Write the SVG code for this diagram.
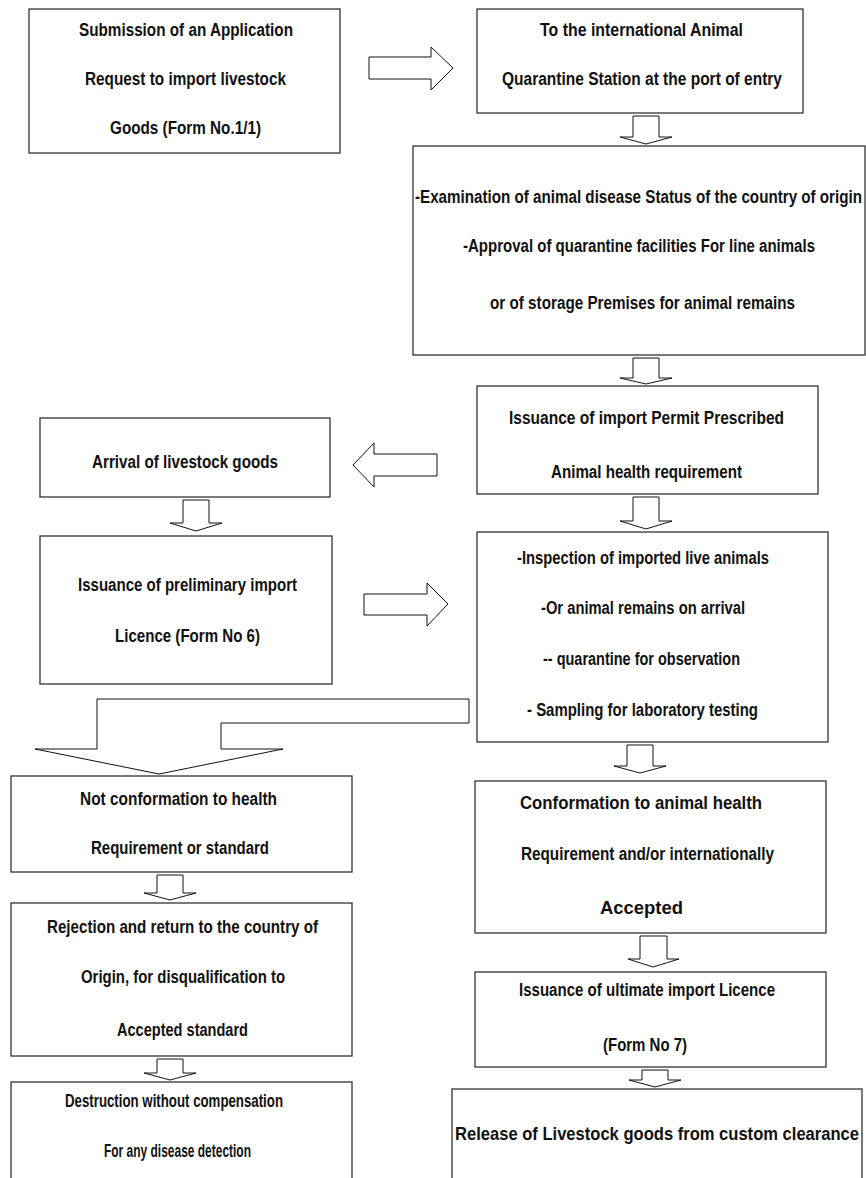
<svg xmlns="http://www.w3.org/2000/svg" width="866" height="1178" viewBox="0 0 866 1178">
<style>
.box{fill:#fff;stroke:#333;stroke-width:1.3}
.arr{fill:#fff;stroke:#111;stroke-width:1}
text{font-family:"Liberation Sans",Arial,sans-serif;font-weight:bold;font-size:17.5px;fill:#111}
</style>
<rect width="866" height="1178" fill="#fff"/>
<g id="connectors">
<path class="arr" d="M369,57 H431 V47 L453,68 L431,90 V79 H369 Z"/>
<path class="arr" d="M633,116 H659 V137 H672 L646,144 L620,137 H633 Z"/>
<path class="arr" d="M633,358 H659 V378 H672 L646,384 L620,378 H633 Z"/>
<path class="arr" d="M437,454 H374 V443 L353,465 L374,487 V476 H437 Z"/>
<path class="arr" d="M183,500 H209 V523 H222 L196,531 L170,523 H183 Z"/>
<path class="arr" d="M633,497 H659 V521 H672 L646,529 L620,521 H633 Z"/>
<path class="arr" d="M364,594 H427 V583 L448,604 L427,626 V615 H364 Z"/>
<path class="arr" d="M469,699 H97 V749 H35 L159,774 L283,749 H221 V723 H469 Z"/>
<path class="arr" d="M627,745 H653 V766 H666 L640,773 L614,766 H627 Z"/>
<path class="arr" d="M157,875 H183 V893 H196 L170,900 L144,893 H157 Z"/>
<path class="arr" d="M640,936 H667 V959 H679 L653,967 L628,959 H640 Z"/>
<path class="arr" d="M157,1059 H183 V1073 H196 L170,1080 L144,1073 H157 Z"/>
<path class="arr" d="M642,1070 H668 V1080 H681 L655,1087 L629,1080 H642 Z"/>
</g>
<g id="n1"><rect class="box" x="29" y="9" width="311" height="144"/>
<text x="79" y="36" textLength="214" lengthAdjust="spacingAndGlyphs">Submission of an Application</text>
<text x="85" y="85" textLength="201" lengthAdjust="spacingAndGlyphs">Request to import livestock</text>
<text x="110" y="134" textLength="151" lengthAdjust="spacingAndGlyphs">Goods (Form No.1/1)</text></g>
<g id="n2"><rect class="box" x="477" y="9" width="326" height="104"/>
<text x="540" y="36" textLength="203" lengthAdjust="spacingAndGlyphs">To the international Animal</text>
<text x="502" y="85" textLength="280" lengthAdjust="spacingAndGlyphs">Quarantine Station at the port of entry</text></g>
<g id="n3"><rect class="box" x="413" y="146" width="452" height="209"/>
<text x="415" y="203" textLength="447" lengthAdjust="spacingAndGlyphs">-Examination of animal disease Status of the country of origin</text>
<text x="463" y="252" textLength="352" lengthAdjust="spacingAndGlyphs">-Approval of quarantine facilities For line animals</text>
<text x="490" y="309" textLength="305" lengthAdjust="spacingAndGlyphs">or of storage Premises for animal remains</text></g>
<g id="n4"><rect class="box" x="477" y="386" width="341" height="108"/>
<text x="509" y="424" textLength="275" lengthAdjust="spacingAndGlyphs">Issuance of import Permit Prescribed</text>
<text x="551" y="478" textLength="191" lengthAdjust="spacingAndGlyphs">Animal health requirement</text></g>
<g id="n5"><rect class="box" x="40" y="418" width="290" height="79"/>
<text x="92" y="468" textLength="186" lengthAdjust="spacingAndGlyphs">Arrival of livestock goods</text></g>
<g id="n6"><rect class="box" x="40" y="536" width="292" height="148"/>
<text x="78" y="591" textLength="219" lengthAdjust="spacingAndGlyphs">Issuance of preliminary import</text>
<text x="115" y="642" textLength="145" lengthAdjust="spacingAndGlyphs">Licence (Form No 6)</text></g>
<g id="n7"><rect class="box" x="477" y="532" width="351" height="210"/>
<text x="517" y="564" textLength="252" lengthAdjust="spacingAndGlyphs">-Inspection of imported live animals</text>
<text x="541" y="614" textLength="204" lengthAdjust="spacingAndGlyphs">-Or animal remains on arrival</text>
<text x="543" y="665" textLength="197" lengthAdjust="spacingAndGlyphs">-- quarantine for observation</text>
<text x="527" y="716" textLength="231" lengthAdjust="spacingAndGlyphs">- Sampling for laboratory testing</text></g>
<g id="n8"><rect class="box" x="11" y="776" width="341" height="96"/>
<text x="80" y="805" textLength="197" lengthAdjust="spacingAndGlyphs">Not conformation to health</text>
<text x="91" y="854" textLength="178" lengthAdjust="spacingAndGlyphs">Requirement or standard</text></g>
<g id="n9"><rect class="box" x="475" y="781" width="351" height="152"/>
<text x="520" y="809" textLength="242" lengthAdjust="spacingAndGlyphs">Conformation to animal health</text>
<text x="521" y="860" textLength="253" lengthAdjust="spacingAndGlyphs">Requirement and/or internationally</text>
<text x="600" y="914" textLength="83" lengthAdjust="spacingAndGlyphs">Accepted</text></g>
<g id="n10"><rect class="box" x="11" y="903" width="341" height="153"/>
<text x="47" y="933" textLength="271" lengthAdjust="spacingAndGlyphs">Rejection and return to the country of</text>
<text x="81" y="983" textLength="204" lengthAdjust="spacingAndGlyphs">Origin, for disqualification to</text>
<text x="117" y="1036" textLength="131" lengthAdjust="spacingAndGlyphs">Accepted standard</text></g>
<g id="n11"><rect class="box" x="475" y="972" width="351" height="95"/>
<text x="519" y="996" textLength="256" lengthAdjust="spacingAndGlyphs">Issuance of ultimate import Licence</text>
<text x="603" y="1051" textLength="84" lengthAdjust="spacingAndGlyphs">(Form No 7)</text></g>
<g id="n12"><rect class="box" x="11" y="1082" width="341" height="110"/>
<text x="65" y="1107" textLength="218" lengthAdjust="spacingAndGlyphs">Destruction without compensation</text>
<text x="104" y="1157" textLength="147" lengthAdjust="spacingAndGlyphs">For any disease detection</text></g>
<g id="n13"><rect class="box" x="452" y="1089" width="410" height="103"/>
<text x="455" y="1140" textLength="404" lengthAdjust="spacingAndGlyphs">Release of Livestock goods from custom clearance</text></g>
</svg>
